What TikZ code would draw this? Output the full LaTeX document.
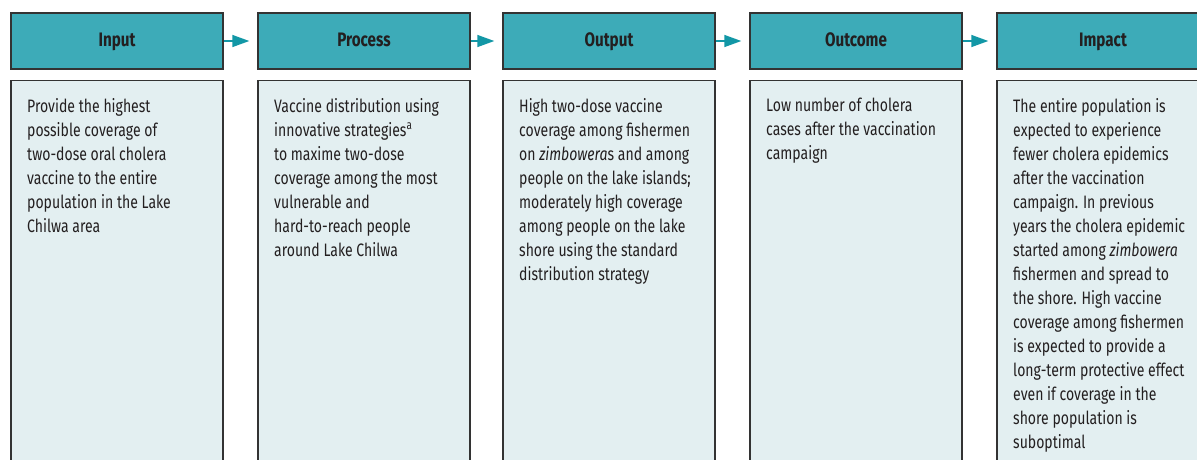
\documentclass[tikz,border=0pt]{standalone}
\usepackage{fontspec}
\setmainfont{Fira Sans}[FakeStretch=0.78]
\usetikzlibrary{arrows.meta}
\definecolor{headteal}{HTML}{3DABB8}
\definecolor{arrowteal}{HTML}{1297A6}
\definecolor{bodyblue}{HTML}{E3EFF1}
\definecolor{edgegray}{HTML}{333333}
\definecolor{inkgray}{HTML}{231F20}
\tikzset{
  header/.style={draw=edgegray, line width=1.4pt, fill=headteal, minimum width=212pt, minimum height=56pt,
    inner sep=0pt, text height=14pt, text depth=4pt, font=\fontsize{19.5}{22}\selectfont\bfseries, text=inkgray},
  bodybox/.style={draw=edgegray, line width=1.4pt, fill=bodyblue, minimum width=212pt, minimum height=400pt,
    inner sep=0pt, anchor=north},
  bodytext/.style={anchor=north west, inner sep=0pt, align=left, text=inkgray,
    font=\fontsize{18}{24}\selectfont},
  flowarrow/.style={draw=arrowteal, line width=1.4pt, -{Triangle[length=17pt,width=12pt]}, shorten >=8pt}
}
\begin{document}
\begin{tikzpicture}[x=1pt, y=-1pt]
	\path[use as bounding box, clip] (0,0) rectangle (1197,459);

	% headers
	\node[header] (hIn)   at (117,41)  {Input};
	\node[header] (hProc) at (364,41)  {Process};
	\node[header] (hOut)  at (609,41)  {Output};
	\node[header] (hOc)   at (856,41)  {Outcome};
	\node[header] (hImp)  at (1103,41) {Impact};

	\draw[flowarrow] (hIn)   -- (hProc);
	\draw[flowarrow] (hProc) -- (hOut);
	\draw[flowarrow] (hOut)  -- (hOc);
	\draw[flowarrow] (hOc)   -- (hImp);

	% bodies
	\node[bodybox] (bIn)   at (117,80)  {};
	\node[bodybox] (bProc) at (364,80)  {};
	\node[bodybox] (bOut)  at (609,80)  {};
	\node[bodybox] (bOc)   at (856,80)  {};
	\node[bodybox] (bImp)  at (1103,80) {};

	\node[bodytext] (tIn) at (27,98) {Provide the highest\\possible coverage of\\two-dose oral cholera\\vaccine to the entire\\population in the Lake\\Chilwa area};
	\node[bodytext] (tProc) at (274,98) {Vaccine distribution using\\innovative strategies\textsuperscript{a}\\to maxime two-dose\\coverage among the most\\vulnerable and\\hard-to-reach people\\around Lake Chilwa};
	\node[bodytext] (tOut) at (519,98) {High two-dose vaccine\\coverage among fishermen\\on \textit{zimbowera}s and among\\people on the lake islands;\\moderately high coverage\\among people on the lake\\shore using the standard\\distribution strategy};
	\node[bodytext] (tOc) at (766,98) {Low number of cholera\\cases after the vaccination\\campaign};
	\node[bodytext] (tImp) at (1013,98) {The entire population is\\expected to experience\\fewer cholera epidemics\\after the vaccination\\campaign. In previous\\years the cholera epidemic\\started among \textit{zimbowera}\\fishermen and spread to\\the shore. High vaccine\\coverage among fishermen\\is expected to provide a\\long-term protective effect\\even if coverage in the\\shore population is\\suboptimal};
\end{tikzpicture}
\end{document}
